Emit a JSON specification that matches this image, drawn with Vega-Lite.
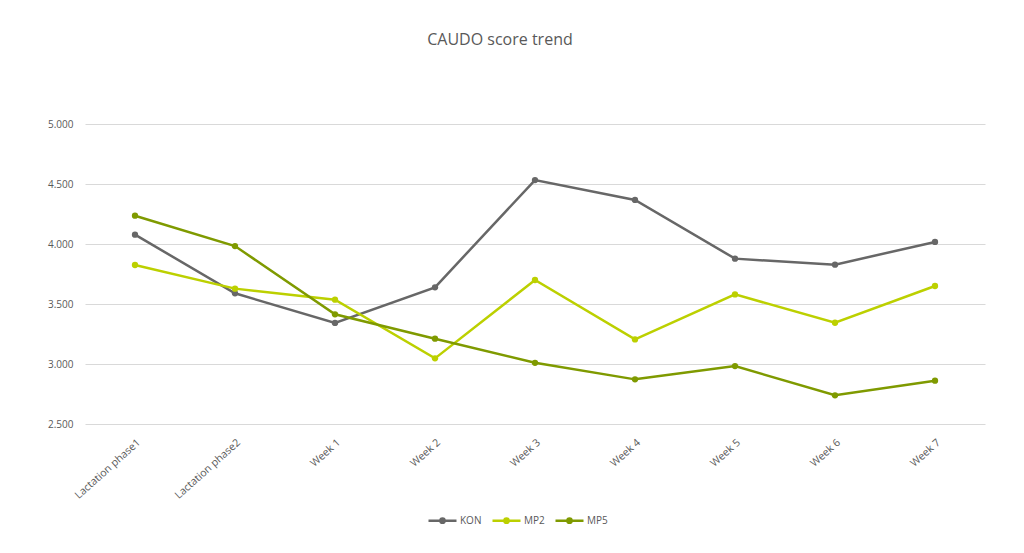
{
  "$schema": "https://vega.github.io/schema/vega-lite/v6.json",
  "width": 900,
  "height": 300,
  "autosize": {"type": "none"},
  "padding": {"left": 85, "top": 124, "right": 39, "bottom": 129},
  "background": "white",
  "title": {
    "text": "CAUDO score trend",
    "font": "Open Sans",
    "fontSize": 16,
    "fontWeight": "normal",
    "color": "#595959",
    "offset": 71,
    "dx": -35
  },
  "config": {
    "view": {"stroke": null},
    "font": "Open Sans"
  },
  "data": {
    "values": [
      {"Phase": "Lactation phase1", "Group": "KON", "Score": 4.078},
      {"Phase": "Lactation phase2", "Group": "KON", "Score": 3.589},
      {"Phase": "Week 1", "Group": "KON", "Score": 3.342},
      {"Phase": "Week 2", "Group": "KON", "Score": 3.639},
      {"Phase": "Week 3", "Group": "KON", "Score": 4.533},
      {"Phase": "Week 4", "Group": "KON", "Score": 4.367},
      {"Phase": "Week 5", "Group": "KON", "Score": 3.878},
      {"Phase": "Week 6", "Group": "KON", "Score": 3.828},
      {"Phase": "Week 7", "Group": "KON", "Score": 4.017},
      {"Phase": "Lactation phase1", "Group": "MP2", "Score": 3.825},
      {"Phase": "Lactation phase2", "Group": "MP2", "Score": 3.628},
      {"Phase": "Week 1", "Group": "MP2", "Score": 3.536},
      {"Phase": "Week 2", "Group": "MP2", "Score": 3.047},
      {"Phase": "Week 3", "Group": "MP2", "Score": 3.700},
      {"Phase": "Week 4", "Group": "MP2", "Score": 3.205},
      {"Phase": "Week 5", "Group": "MP2", "Score": 3.580},
      {"Phase": "Week 6", "Group": "MP2", "Score": 3.344},
      {"Phase": "Week 7", "Group": "MP2", "Score": 3.650},
      {"Phase": "Lactation phase1", "Group": "MP5", "Score": 4.236},
      {"Phase": "Lactation phase2", "Group": "MP5", "Score": 3.983},
      {"Phase": "Week 1", "Group": "MP5", "Score": 3.414},
      {"Phase": "Week 2", "Group": "MP5", "Score": 3.211},
      {"Phase": "Week 3", "Group": "MP5", "Score": 3.010},
      {"Phase": "Week 4", "Group": "MP5", "Score": 2.872},
      {"Phase": "Week 5", "Group": "MP5", "Score": 2.983},
      {"Phase": "Week 6", "Group": "MP5", "Score": 2.739},
      {"Phase": "Week 7", "Group": "MP5", "Score": 2.861}
    ]
  },
  "mark": {
    "type": "line",
    "strokeWidth": 2.5,
    "point": {"filled": true, "size": 40}
  },
  "encoding": {
    "x": {
      "field": "Phase",
      "type": "ordinal",
      "sort": null,
      "scale": {"type": "point", "padding": 0.5},
      "title": null,
      "axis": {
        "labelAngle": -42,
        "labelFontSize": 10.5,
        "labelColor": "#595959",
        "labelPadding": 13,
        "ticks": false,
        "domain": false,
        "grid": false
      }
    },
    "y": {
      "field": "Score",
      "type": "quantitative",
      "scale": {"domain": [2.5, 5], "nice": false, "zero": false},
      "title": null,
      "axis": {
        "values": [2.5, 3, 3.5, 4, 4.5, 5],
        "format": ".3f",
        "labelFontSize": 10,
        "labelColor": "#595959",
        "labelPadding": 12,
        "ticks": false,
        "domain": false,
        "gridColor": "#d9d9d9",
        "gridWidth": 1
      }
    },
    "color": {
      "field": "Group",
      "type": "nominal",
      "scale": {
        "domain": ["KON", "MP2", "MP5"],
        "range": ["#676767", "#bcd000", "#7f9a00"]
      },
      "legend": {
        "orient": "none",
        "legendX": 342,
        "legendY": 381,
        "direction": "horizontal",
        "title": null,
        "labelFontSize": 10,
        "labelColor": "#595959",
        "symbolType": "M-1,0L1,0M-0.15,0A0.15,0.15 0 1,0 0.15,0A0.15,0.15 0 1,0 -0.15,0",
        "symbolSize": 784,
        "symbolStrokeWidth": 2.5,
        "columnPadding": 5,
        "labelOffset": 2
      }
    }
  }
}
